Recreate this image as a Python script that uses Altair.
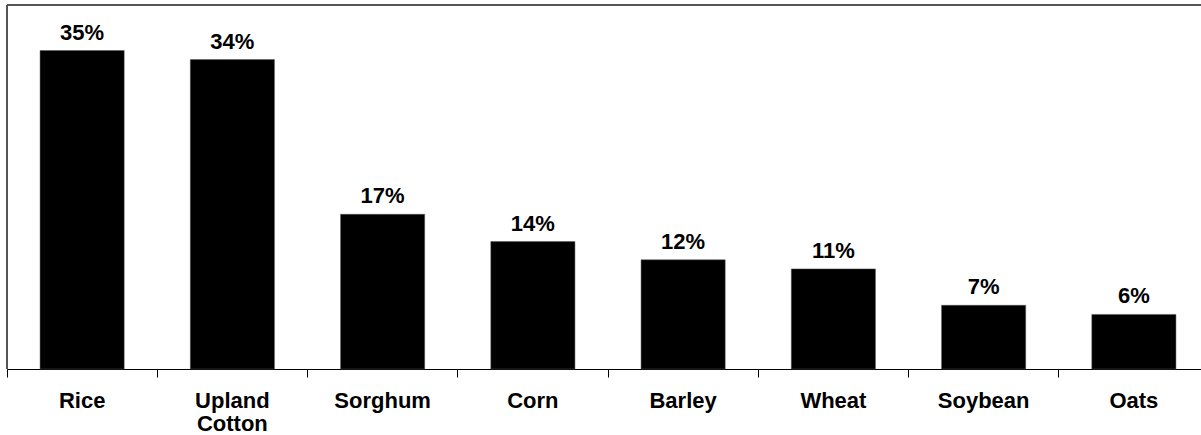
import altair as alt
import pandas as pd

crops = ["Rice", "Upland Cotton", "Sorghum", "Corn", "Barley", "Wheat", "Soybean", "Oats"]
shares = [35, 34, 17, 14, 12, 11, 7, 6]
labels = ["35%", "34%", "17%", "14%", "12%", "11%", "7%", "6%"]

df = pd.DataFrame({"crop": crops, "share": shares, "label": labels})

FONT = "Liberation Sans"
FS = 22

x = alt.X(
    "crop:N",
    sort=crops,
    scale=alt.Scale(range=[0, 1202], paddingInner=0, paddingOuter=0),
    axis=alt.Axis(
        title=None,
        labelAngle=0,
        labelFont=FONT,
        labelFontSize=FS,
        labelFontWeight="bold",
        labelColor="black",
        labelExpr="datum.value == 'Upland Cotton' ? ['Upland', 'Cotton'] : datum.value",
        labelLineHeight=23,
        labelPadding=13,
        labelBaseline="top",
        bandPosition=0,
        tickColor="black",
        tickSize=8,
        domainColor="black",
        domainWidth=1,
        grid=False,
    ),
)
y = alt.Y(
    "share:Q",
    scale=alt.Scale(domain=[0, 40], nice=False),
    axis=None,
)

bars = alt.Chart(df).mark_bar(
    color="black", stroke="#555555", strokeWidth=0.5, width=alt.RelativeBandSize(0.56)
).encode(x=x, y=y)
text = alt.Chart(df).mark_text(
    font=FONT, fontSize=FS, fontWeight="bold", color="black", baseline="alphabetic", dy=-11
).encode(x=x, y=y, text="label:N")

frame_top = alt.Chart(df).mark_rule(color="#555555", strokeWidth=2).encode(
    x=alt.value(0), x2=alt.value(1194), y=alt.value(0)
)
frame_left = alt.Chart(df).mark_rule(color="#555555", strokeWidth=2).encode(
    x=alt.value(0), y=alt.value(0), y2=alt.value(364)
)

chart = (
    alt.layer(bars, text, frame_top, frame_left)
    .properties(
        width=1194,
        height=364,
        padding={"left": 7, "top": 5, "right": 0, "bottom": 66},
        autosize=alt.AutoSizeParams(type="none"),
    )
    .configure_view(strokeWidth=0)
    .configure(background="white")
)
chart.save("out.html", embed_options={"renderer": "svg", "actions": False})
